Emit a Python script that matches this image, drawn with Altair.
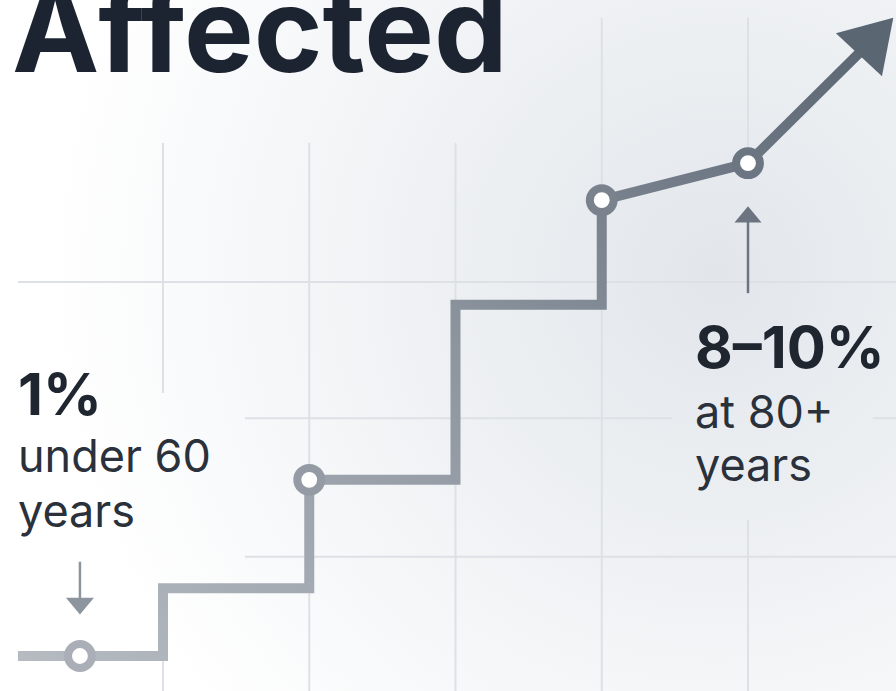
import altair as alt
import pandas as pd

# ---- data (age in years, share affected in %) ----
step_age = [55.04, 60, 60, 65, 65, 70, 70, 75, 75, 80, 84.38]
step_val = [1.0, 1.0, 2.10, 2.10, 3.86, 3.86, 6.70, 6.70, 8.40, 9.00, 11.06]

marker_age = [57.16, 65.0, 75.0, 80.0]
marker_val = [1.0, 3.86, 8.40, 9.00]

# grid segments (data units)
vgrid_age = [60, 60, 65, 70, 75, 80, 80]
vgrid_from = [9.33, 2.07, 9.33, 9.33, 11.36, 11.36, 3.21]
vgrid_to = [5.27, 0.43, 0.43, 0.43, 0.43, 9.0, 0.43]

hgrid_val = [7.07, 4.86, 4.86, 2.61]
hgrid_from = [55.04, 62.80, 84.27, 62.80]
hgrid_to = [85.06, 77.40, 85.06, 85.06]

# annotation arrows (age, from, to, head)
arrow_age = [57.16, 80.0]
arrow_from = [2.53, 6.89]
arrow_to = [1.91, 8.11]
arrow_head = [1.81, 8.17]

XDOM = [54.427, 85.06]
YDOM = [0.432, 11.649]
W, H = 896, 691


def X(field="age"):
    return alt.X(f"{field}:Q", scale=alt.Scale(domain=XDOM, nice=False, zero=False), axis=None)


def Y(field="val"):
    return alt.Y(f"{field}:Q", scale=alt.Scale(domain=YDOM, nice=False, zero=False), axis=None)


one = pd.DataFrame({"a": [0]})

bg = alt.Chart(one).mark_rect(
    fill=alt.RadialGradient(
        gradient="radial", x1=0.8, y1=0.42, x2=0.8, y2=0.42, r1=0, r2=0.75,
        stops=[alt.GradientStop(color="#e2e6eb", offset=0),
               alt.GradientStop(color="#eceff2", offset=0.35),
               alt.GradientStop(color="#ffffff", offset=1)]
    )
).encode(x=alt.value(0), x2=alt.value(W), y=alt.value(0), y2=alt.value(H))

vg = pd.DataFrame({"age": vgrid_age, "v1": vgrid_from, "v2": vgrid_to})
vgrid = alt.Chart(vg).mark_rule(color="#dde1e6", strokeWidth=2).encode(
    x=X(), y=Y("v1"), y2="v2:Q")

hg = pd.DataFrame({"val": hgrid_val, "a1": hgrid_from, "a2": hgrid_to})
hgrid = alt.Chart(hg).mark_rule(color="#dde1e6", strokeWidth=2).encode(
    y=Y(), x=X("a1"), x2="a2:Q")

steps = pd.DataFrame({"age": step_age, "val": step_val, "i": list(range(len(step_age)))})
line = alt.Chart(steps).mark_line(
    stroke=alt.LinearGradient(
        gradient="linear", x1=0, y1=1, x2=1, y2=0,
        stops=[alt.GradientStop(color="#b6bbc2", offset=0),
               alt.GradientStop(color="#8d959f", offset=0.5),
               alt.GradientStop(color="#5b6673", offset=1)]
    ),
    strokeWidth=10, strokeJoin="miter", strokeCap="butt"
).encode(x=X(), y=Y(), order="i:Q")

head_df = pd.DataFrame({"age": [step_age[-1]], "val": [step_val[-1]]})
head = alt.Chart(head_df).mark_point(
    shape="M0,-0.8L1,0.8L-1,0.8Z", size=3969, angle=43, filled=True,
    fill="#5b6673", opacity=1, strokeWidth=0
).encode(x=X(), y=Y())

mk = pd.DataFrame({"age": marker_age, "val": marker_val})
markers = alt.Chart(mk).mark_point(shape="circle", size=570, strokeWidth=8, opacity=1, fillOpacity=1).encode(
    x=X(), y=Y(),
    fill=alt.value("white"),
    stroke=alt.Stroke("age:Q", scale=alt.Scale(domain=[55, 85], range=["#b0b5bc", "#5f6a77"]), legend=None),
)

ar = pd.DataFrame({"age": arrow_age, "v1": arrow_from, "v2": arrow_to, "h": arrow_head,
                   "k": ["down", "up"]})
arrow_color = alt.Color("k:N", scale=alt.Scale(domain=["down", "up"], range=["#8c949e", "#6b7480"]), legend=None)
shafts = alt.Chart(ar).mark_rule(strokeWidth=2.5).encode(x=X(), y=Y("v1"), y2="v2:Q", color=arrow_color)
down_head = alt.Chart(ar[ar.k == "down"]).mark_point(
    shape="M-1,-0.6L1,-0.6L0,0.6Z", size=784, filled=True, opacity=1, strokeWidth=0, fill="#8c949e"
).encode(x=X(), y=Y("h"))
up_head = alt.Chart(ar[ar.k == "up"]).mark_point(
    shape="M-1,0.6L1,0.6L0,-0.6Z", size=729, filled=True, opacity=1, strokeWidth=0, fill="#6b7480"
).encode(x=X(), y=Y("h"))

FONT = "Inter"


def label(text, x, y, size, weight="normal", color="#2a313b"):
    return alt.Chart(one).mark_text(
        text=text, font=FONT, fontSize=size, fontWeight=weight, color=color,
        align="left", baseline="alphabetic"
    ).encode(x=alt.value(x), y=alt.value(y))


texts = [
    label("Affected", 12, 72, 117, "bold", "#1c2431"),
    label("1%", 18, 415, 58, "bold", "#1f2630"),
    label("under 60", 18, 472, 45),
    label("years", 18, 527, 45),
    label("8\u201310%", 695, 368, 58, "bold", "#1f2630"),
    label("at 80+", 695, 428, 45),
    label("years", 695, 481, 45),
]

chart = alt.layer(bg, vgrid, hgrid, line, head, shafts, down_head, up_head, markers, *texts).properties(
    width=W, height=H, padding=0, autosize=alt.AutoSizeParams(type="none"), background="white"
).configure_view(stroke=None)

chart.save("out.html", embed_options={"renderer": "svg", "actions": False})
